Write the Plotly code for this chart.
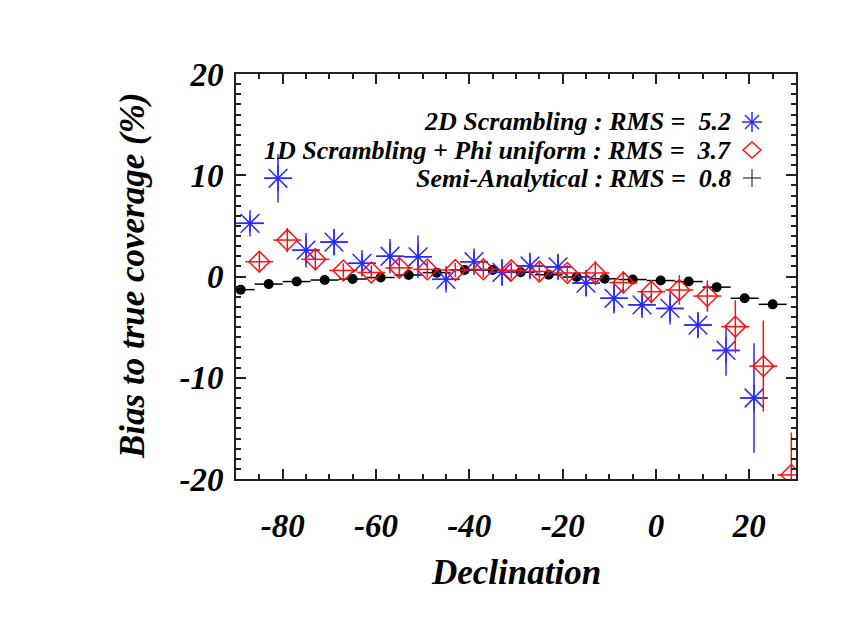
import plotly.graph_objects as go

# declination bin positions (deg) for each method
dec_semi = [-89, -83, -77, -71, -65, -59, -53, -47, -41, -35,
            -29, -23, -17, -11, -5, 1, 7, 13, 19, 25]
dec_2d = [-87, -81, -75, -69, -63, -57, -51, -45, -39, -33,
          -27, -21, -15, -9, -3, 3, 9, 15, 21]
dec_1d = [-85, -79, -73, -67, -61, -55, -49, -43, -37, -31,
          -25, -19, -13, -7, -1, 5, 11, 17, 23, 29]

# bias to true coverage (%)
bias_semi = [-1.3, -0.75, -0.5, -0.35, -0.25, -0.1, 0.15, 0.38, 0.64, 0.64,
             0.42, 0.18, -0.05, -0.22, -0.3, -0.4, -0.5, -1.05, -2.15, -2.75]
bias_2d = [5.25, 9.7, 2.6, 3.4, 1.3, 2.0, 1.95, -0.28, 1.46, 0.41,
           1.04, 0.95, -0.65, -2.15, -2.8, -3.15, -4.8, -7.3, -12.0]
err_2d = [0.8, 2.4, 1.7, 1.3, 0.9, 1.7, 2.1, 1.0, 1.0, 1.3,
          1.2, 1.2, 1.3, 1.5, 1.0, 1.6, 1.2, 2.5, 5.4]
bias_1d = [1.46, 3.6, 1.7, 0.6, 0.4, 0.85, 0.7, 0.64, 0.71, 0.62,
           0.5, 0.35, 0.35, -0.6, -1.5, -1.33, -1.93, -4.95, -8.85, -19.6]
err_1d = [0.9, 1.2, 1.1, 0.7, 0.7, 1.0, 0.8, 0.7, 0.8, 0.8,
          0.9, 0.8, 1.2, 1.1, 1.15, 1.45, 1.55, 2.6, 4.5, 4.2]

x_ticks = [-80, -60, -40, -20, 0, 20]
x_tick_text = ["-80", "-60", "-40", "-20", "0", "20"]
y_ticks = [-20, -10, 0, 10, 20]
y_tick_text = ["-20", "-10", "0", "10", "20"]

legend_labels = [
    "2D Scrambling : RMS =\u00a0 5.2",
    "1D Scrambling + Phi uniform : RMS =\u00a0 3.7",
    "Semi-Analytical : RMS =\u00a0 0.8",
]

BLUE = "#2a2aff"
RED = "#ff1010"
BLACK = "#000000"
FONT = "Liberation Serif"
HALF_BIN = 3

fig = go.Figure()

fig.add_trace(go.Scatter(
    x=dec_semi, y=bias_semi, mode="markers",
    marker=dict(symbol="circle", size=10, color=BLACK),
    error_x=dict(type="constant", value=HALF_BIN, width=0, thickness=1.5, color=BLACK),
))
fig.add_trace(go.Scatter(
    x=dec_2d, y=bias_2d, mode="markers",
    marker=dict(symbol="asterisk-open", size=22, color=BLUE, line=dict(color=BLUE, width=1.5)),
    error_x=dict(type="constant", value=HALF_BIN, width=0, thickness=1.5, color=BLUE),
    error_y=dict(type="data", array=err_2d, width=0, thickness=1.5, color=BLUE),
))
fig.add_trace(go.Scatter(
    x=dec_1d, y=bias_1d, mode="markers",
    marker=dict(symbol="diamond-open", size=16, color=RED, line=dict(color=RED, width=1.5)),
    error_x=dict(type="constant", value=HALF_BIN, width=0, thickness=1.5, color=RED),
    error_y=dict(type="data", array=err_1d, width=0, thickness=1.5, color=RED),
))

# plot area as seen on screen: x 236..796, y 74..479 (page body adds 8 px)
PX_W, PX_H = 560, 405


def px(xp, yp):
    return (xp - 236) / PX_W, (479 - yp) / PX_H


label_font = dict(family=FONT, size=26, color=BLACK, style="italic", weight="bold")
rows_y = [122, 150, 178]
for text, yp in zip(legend_labels, rows_y):
    xa, ya = px(733, yp)
    fig.add_annotation(x=xa, y=ya, xref="paper", yref="paper", text=text,
                       showarrow=False, xanchor="right", yanchor="middle", font=label_font)

# legend symbols drawn as pixel-sized shapes
mx, _ = px(752, 0)
shapes = []
_, y1 = px(0, rows_y[0])
for dx, dy in [(10, 0), (0, 10), (7, 7), (7, -7)]:
    shapes.append(dict(type="line", xref="paper", yref="paper", xsizemode="pixel",
                       ysizemode="pixel", xanchor=mx, yanchor=y1,
                       x0=-dx, x1=dx, y0=-dy, y1=dy, line=dict(color=BLUE, width=1.5)))
_, y2 = px(0, rows_y[1])
shapes.append(dict(type="path", xref="paper", yref="paper", xsizemode="pixel",
                   ysizemode="pixel", xanchor=mx, yanchor=y2,
                   path="M -9 0 L 0 8 L 9 0 L 0 -8 Z", line=dict(color=RED, width=1.5)))
_, y3 = px(0, rows_y[2])
for dx, dy in [(9, 0), (0, 9)]:
    shapes.append(dict(type="line", xref="paper", yref="paper", xsizemode="pixel",
                       ysizemode="pixel", xanchor=mx, yanchor=y3,
                       x0=-dx, x1=dx, y0=-dy, y1=dy, line=dict(color="#333333", width=1.2)))
fig.update_layout(shapes=shapes)

tick_font = dict(family=FONT, size=33, color=BLACK, style="italic", weight="bold")
title_font = dict(family=FONT, size=35, color=BLACK, style="italic", weight="bold")

fig.update_xaxes(
    range=[-90, 30], tickvals=x_ticks, ticktext=x_tick_text, ticks="inside", ticklen=10,
    tickwidth=1.5, tickcolor="#222", showline=True, linecolor="#222", linewidth=2,
    mirror="allticks", showgrid=False, zeroline=False, tickfont=tick_font,
    ticklabelstandoff=16,
    minor=dict(dtick=5, tick0=-80, ticks="inside", ticklen=5, tickcolor="#222", tickwidth=1.5),
)
fig.update_yaxes(
    range=[-20, 20], tickvals=y_ticks, ticktext=y_tick_text, ticks="inside", ticklen=10,
    tickwidth=1.5, tickcolor="#222", showline=True, linecolor="#222", linewidth=2,
    mirror="allticks", showgrid=False, zeroline=False, tickfont=tick_font,
    ticklabelstandoff=4,
    minor=dict(dtick=1, ticks="inside", ticklen=5, tickcolor="#222", tickwidth=1.5),
)

xt, yt = px(516, 572)
fig.add_annotation(x=xt, y=yt, xref="paper", yref="paper", text="Declination",
                   showarrow=False, xanchor="center", yanchor="middle", font=title_font)
xt, yt = px(132, 276)
fig.add_annotation(x=xt, y=yt, xref="paper", yref="paper", text="Bias to true coverage (%)",
                   showarrow=False, xanchor="center", yanchor="middle", textangle=-90,
                   font=title_font)

fig.update_layout(
    width=866, height=629,
    margin=dict(l=228, r=78, t=66, b=158),
    paper_bgcolor="white", plot_bgcolor="white",
    showlegend=False,
)

fig.write_html("out.html")
